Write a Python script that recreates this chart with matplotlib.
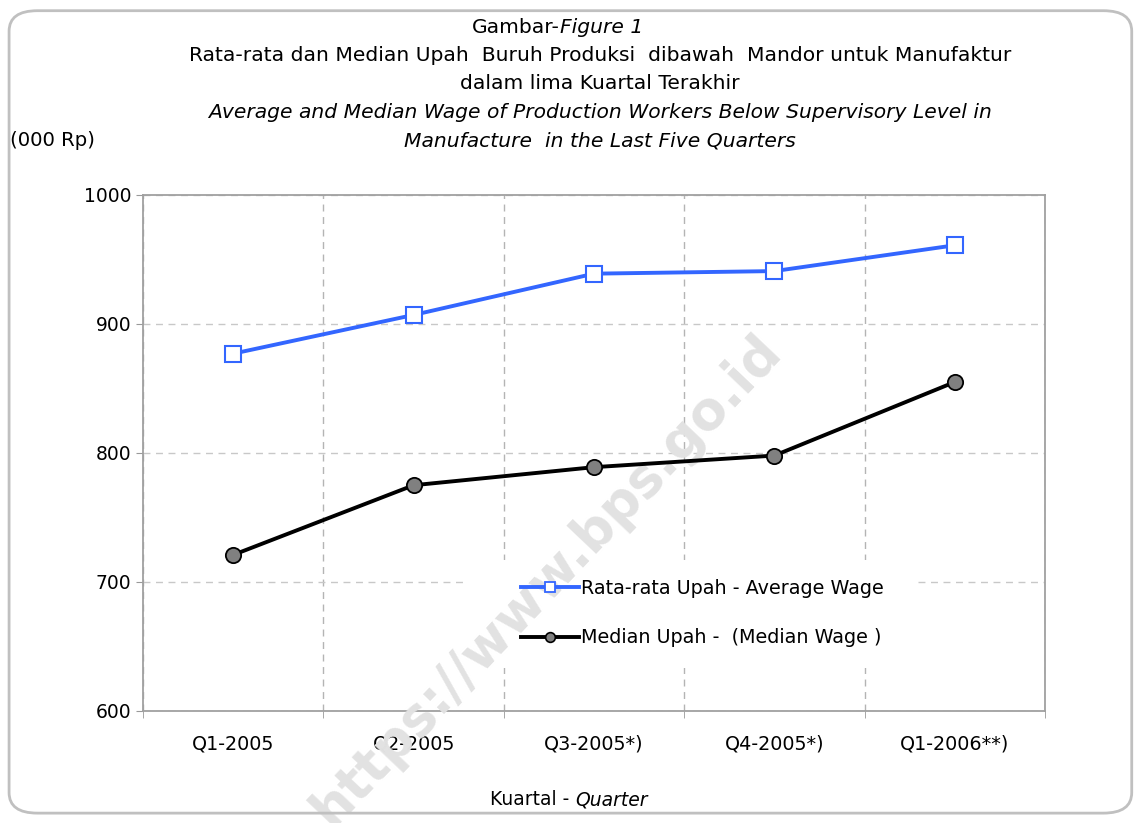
import matplotlib.pyplot as plt
from matplotlib.lines import Line2D
from matplotlib.patches import FancyBboxPatch, Rectangle

# data (000 Rp)
quarters = ["Q1-2005", "Q2-2005", "Q3-2005*)", "Q4-2005*)", "Q1-2006**)"]
average_wage = [877, 907, 939, 941, 961]
median_wage = [721, 775, 789, 798, 855]

avg_label = "Rata-rata Upah - Average Wage"
med_label = "Median Upah -  (Median Wage )"
blue = "#3366ff"

fig = plt.figure(figsize=(11.34, 8.23), dpi=100)
ax = fig.add_axes([0.1261, 0.1361, 0.7954, 0.627])

x = range(len(quarters))
ax.plot(x, average_wage, color=blue, lw=2.8, marker="s", ms=11,
        mfc="white", mec=blue, mew=1.5, zorder=4)
ax.plot(x, median_wage, color="black", lw=2.8, marker="o", ms=11,
        mfc="#808080", mec="black", mew=1.3, zorder=4)

ax.set_xlim(-0.5, len(quarters) - 0.5)
ax.set_ylim(600, 1000)
ax.set_yticks([600, 700, 800, 900, 1000])
ax.set_xticks(list(x))
ax.set_xticklabels(quarters)
ax.set_xticks([i + 0.5 for i in range(-1, len(quarters))], minor=True)
ax.tick_params(axis="x", which="major", length=0, pad=17, labelsize=13.8)
ax.tick_params(axis="x", which="minor", length=5, color="#999999")
ax.tick_params(axis="y", length=5, color="#999999", labelsize=13.5)
ax.grid(axis="y", which="major", ls=(0, (5, 4)), color="#c8c8c8", lw=1)
ax.grid(axis="x", which="minor", ls=(0, (5, 4)), color="#b4b4b4", lw=1)
for s in ax.spines.values():
    s.set_color("#a0a0a0")
    s.set_linewidth(1.3)

# white legend box that hides the grid behind it
ax.add_patch(Rectangle((0.357, 0.083), 0.5, 0.21, transform=ax.transAxes,
                       fc="white", ec="none", zorder=2))

# legend with small markers like the original
handles = [
    Line2D([], [], color=blue, lw=2.8, marker="s", ms=7, mfc="white", mec=blue, mew=1.3),
    Line2D([], [], color="black", lw=2.8, marker="o", ms=7, mfc="#808080", mec="black", mew=1.2),
]
leg = ax.legend(handles, [avg_label, med_label], loc="upper left", bbox_to_anchor=(0.4, 0.29),
                frameon=False, fontsize=13.8, handlelength=3.0, handletextpad=0.15,
                labelspacing=1.6)
leg.set_zorder(5)

# titles
fs = 14.6
fig.text(0.494, 0.967, "Gambar-", ha="right", va="center", fontsize=fs)
fig.text(0.494, 0.967, "Figure 1", ha="left", va="center", fontsize=fs, style="italic")
fig.text(0.529, 0.932, "Rata-rata dan Median Upah  Buruh Produksi  dibawah  Mandor untuk Manufaktur",
         ha="center", va="center", fontsize=fs)
fig.text(0.529, 0.898, "dalam lima Kuartal Terakhir", ha="center", va="center", fontsize=fs)
fig.text(0.529, 0.863, "Average and Median Wage of Production Workers Below Supervisory Level in",
         ha="center", va="center", fontsize=fs, style="italic")
fig.text(0.529, 0.829, "Manufacture  in the Last Five Quarters", ha="center", va="center",
         fontsize=fs, style="italic")
fig.text(0.009, 0.829, "(000 Rp)", ha="left", va="center", fontsize=14.2)
fig.text(0.507, 0.028, "Kuartal - ", ha="right", va="center", fontsize=13.5)
fig.text(0.507, 0.028, "Quarter", ha="left", va="center", fontsize=13.5, style="italic")

# watermark, over the legend box but under the lines
ax.text(0.482, 0.295, "https://www.bps.go.id", transform=fig.transFigure, ha="center",
        va="center", fontsize=38, fontweight="bold", color="#e2e2e2", rotation=46.5,
        zorder=3, clip_on=False)

# rounded outer frame
frame = FancyBboxPatch((0.008, 0.012), 0.99, 0.975, boxstyle="round,pad=0,rounding_size=0.025",
                       transform=fig.transFigure, fill=False, ec="#c0c0c0", lw=2)
fig.patches.append(frame)

fig.savefig("out.png", dpi=100)
